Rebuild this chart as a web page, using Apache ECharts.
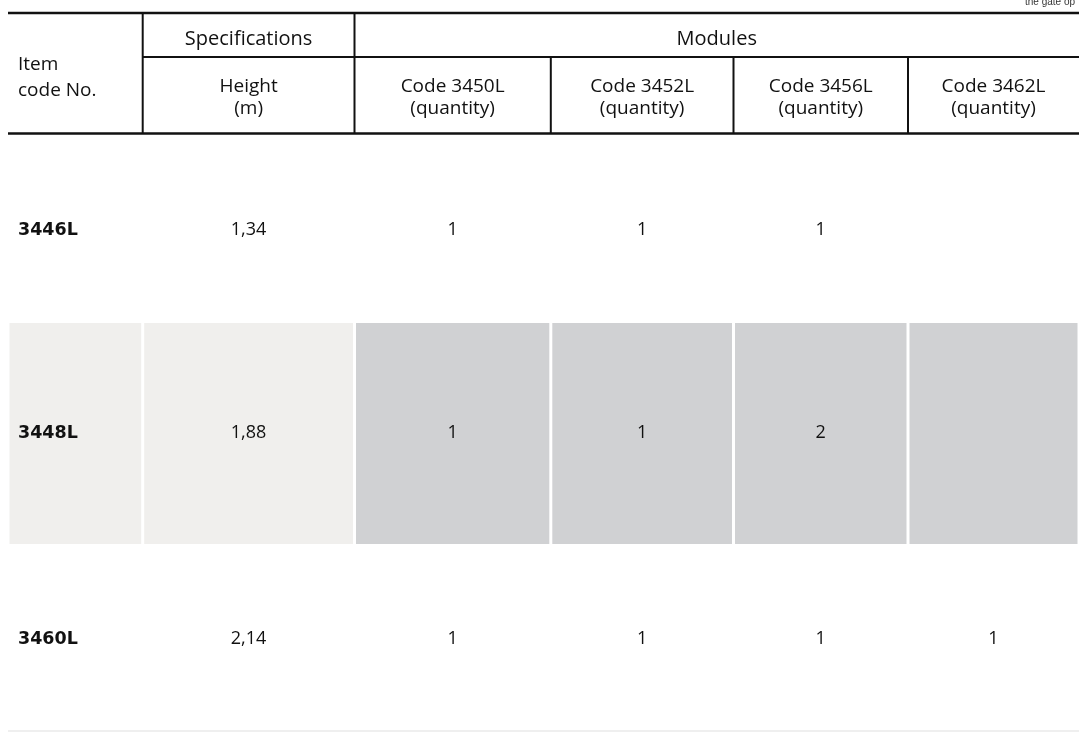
<!DOCTYPE html>
<html><head><meta charset="utf-8">
<script src="https://cdn.jsdelivr.net/npm/echarts@6/dist/echarts.min.js"></script>
<style>html,body{margin:0;padding:0;background:#fff}#c{width:1079px;height:755px}</style>
</head><body><div id="c"></div>
<script>
// ---- data ----
const groupHeaders = ['Specifications', 'Modules'];
const columnHeaders = ['Item\ncode No.', 'Height\n(m)', 'Code 3450L\n(quantity)', 'Code 3452L\n(quantity)', 'Code 3456L\n(quantity)', 'Code 3462L\n(quantity)'];
const itemCodes = ['3446L', '3448L', '3460L'];
const heights = ['1,34', '1,88', '2,14'];
const qty3450L = [1, 1, 1];
const qty3452L = [1, 1, 1];
const qty3456L = [1, 2, 1];
const qty3462L = [null, null, 1];
const cornerNote = 'the gate op';

// ---- layout (axes are in pixel units) ----
const colEdges = [8, 142.7, 354.5, 550.8, 733.5, 908, 1079];
const rowEdges = [13, 57, 133.5, 321.5, 545, 731];
const textCenterY = [null, null, 230, 433, 639];
const FONT = '"Open Sans", "Noto Sans", sans-serif';
const BOLD_FONT = '"DejaVu Sans", "Open Sans", sans-serif';
const INK = '#111111';

// header cells: [colStart, colEnd, rowStart, rowEnd, text, align, lineHeight, dy, fontSize]
const headerCells = [
  [0, 1, 0, 2, columnHeaders[0], 'left', 26, 4, 19],
  [1, 2, 0, 1, groupHeaders[0], 'center', 22, 4, 20],
  [2, 6, 0, 1, groupHeaders[1], 'center', 22, 4, 20]
];
for (let c = 1; c < columnHeaders.length; c++) headerCells.push([c, c + 1, 1, 2, columnHeaders[c], 'center', 22, 2, 19]);

// body cells
const bodyColumns = [itemCodes, heights, qty3450L, qty3452L, qty3456L, qty3462L];
const bodyCells = [];
itemCodes.forEach((_, r) => {
  bodyColumns.forEach((col, c) => {
    const v = col[r];
    bodyCells.push({ value: [c, r + 2], text: v == null ? '' : String(v) });
  });
});

// rules: [type, edgeIndex, from, to, width, color]
const rules = [
  ['h', 0, 0, 6, 2.5, INK],
  ['h', 1, 1, 6, 2, INK],
  ['h', 2, 0, 6, 2.5, INK],
  ['v', 1, 0, 2, 2, INK],
  ['v', 2, 0, 2, 2, INK],
  ['v', 3, 1, 2, 2, INK],
  ['v', 4, 1, 2, 2, INK],
  ['v', 5, 1, 2, 2, INK],
  ['h', 5, 0, 6, 2, '#efefef']
];

const chart = echarts.init(document.getElementById('c'), null, { renderer: 'canvas' });
chart.setOption({
  animation: false,
  backgroundColor: '#ffffff',
  title: { text: cornerNote, right: -1, top: -8, textStyle: { fontSize: 10, fontWeight: 'normal', color: '#333', fontFamily: 'Liberation Sans' } },
  grid: { left: 0, right: 0, top: 0, bottom: 0 },
  xAxis: { type: 'value', min: 0, max: 1079, show: false },
  yAxis: { type: 'value', min: 0, max: 755, inverse: true, show: false },
  series: [
    {
      type: 'custom', name: 'cells', data: bodyCells, z: 1,
      renderItem(params, api) {
        const c = api.value(0), r = api.value(1);
        const d = bodyCells[params.dataIndex];
        const p0 = api.coord([colEdges[c], rowEdges[r]]);
        const p1 = api.coord([colEdges[c + 1], rowEdges[r + 1]]);
        const children = [];
        const shaded = (r - 2) % 2 === 1;
        if (shaded) {
          children.push({
            type: 'rect',
            shape: { x: p0[0] + 1.5, y: p0[1] + 1.5, width: p1[0] - p0[0] - 3, height: p1[1] - p0[1] - 2.5 },
            style: { fill: c < 2 ? '#f0efed' : '#d0d1d3' }
          });
        }
        const cy = api.coord([0, textCenterY[r]])[1];
        children.push({
          type: 'text',
          style: {
            text: d.text,
            x: c === 0 ? p0[0] + 10 : (p0[0] + p1[0]) / 2,
            y: cy,
            align: c === 0 ? 'left' : 'center',
            verticalAlign: 'middle',
            fontFamily: c === 0 ? BOLD_FONT : FONT,
            fontSize: c === 0 ? 17.5 : 18,
            fontWeight: c === 0 ? 'bold' : 'normal',
            fill: INK
          }
        });
        return { type: 'group', children };
      }
    },
    {
      type: 'custom', name: 'header', data: headerCells.map(h => [h[0], h[1], h[2], h[3]]), z: 2,
      renderItem(params, api) {
        const h = headerCells[params.dataIndex];
        const p0 = api.coord([colEdges[h[0]], rowEdges[h[2]]]);
        const p1 = api.coord([colEdges[h[1]], rowEdges[h[3]]]);
        return {
          type: 'text',
          style: {
            text: h[4],
            x: h[5] === 'left' ? p0[0] + 10 : (p0[0] + p1[0]) / 2,
            y: (p0[1] + p1[1]) / 2 + h[7],
            align: h[5], verticalAlign: 'middle',
            lineHeight: h[6],
            fontFamily: FONT, fontSize: h[8], fill: INK
          }
        };
      }
    },
    {
      type: 'custom', name: 'rules', data: rules.map((r, i) => [i, r[1]]), z: 3,
      renderItem(params, api) {
        const r = rules[params.dataIndex];
        let a, b;
        if (r[0] === 'h') {
          a = api.coord([colEdges[r[2]], rowEdges[r[1]]]);
          b = api.coord([colEdges[r[3]], rowEdges[r[1]]]);
        } else {
          a = api.coord([colEdges[r[1]], rowEdges[r[2]]]);
          b = api.coord([colEdges[r[1]], rowEdges[r[3]]]);
        }
        return {
          type: 'line',
          shape: { x1: a[0], y1: a[1], x2: b[0], y2: b[1] },
          style: { stroke: r[5], lineWidth: r[4] }
        };
      }
    }
  ]
});
</script></body></html>
